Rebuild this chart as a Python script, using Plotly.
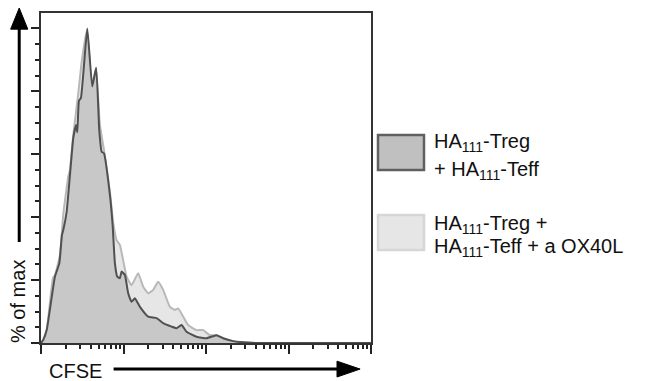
import plotly.graph_objects as go

# CFSE histogram, x in decades (log10 of intensity), y in % of max
ctrl_dec = [0.0, 0.028, 0.069, 0.169, 0.222, 0.254, 0.27, 0.311, 0.351, 0.391, 0.424,
            0.44, 0.46, 0.484, 0.561, 0.621, 0.669, 0.706, 0.735, 0.763, 0.835, 0.868,
            0.896, 0.924, 0.956, 0.977, 1.017, 1.057, 1.098, 1.138, 1.199, 1.299, 1.401,
            1.481, 1.582, 1.643, 1.703, 1.764, 1.885, 2.006, 2.127, 2.207, 2.328, 2.409,
            2.6, 4.0]
ctrl_pct = [0.0, 1.0, 4.1, 21.1, 25.3, 34.3, 35.9, 41.7, 53.4, 65.1, 69.3,
            67.0, 77.0, 77.9, 100.0, 81.5, 87.5, 67.7, 60.8, 60.3, 47.1, 37.5,
            25.3, 21.1, 20.6, 22.7, 21.6, 15.8, 13.1, 14.2, 11.5, 8.4, 7.9,
            6.3, 5.2, 4.7, 5.7, 3.6, 2.0, 1.5, 2.5, 1.5, 0.6, 0.3,
            0.0, 0.0]

ox40l_dec = [0.0, 0.024, 0.069, 0.145, 0.169, 0.23, 0.27, 0.331, 0.351, 0.387, 0.448,
             0.496, 0.557, 0.617, 0.666, 0.714, 0.763, 0.835, 0.876, 0.916, 0.956,
             1.038, 1.098, 1.178, 1.239, 1.299, 1.36, 1.42, 1.481, 1.562, 1.622, 1.662,
             1.723, 1.783, 1.885, 1.965, 2.046, 2.127, 2.207, 2.328, 2.409, 2.6, 4.0]
ox40l_pct = [0.0, 1.0, 4.1, 20.7, 21.6, 28.0, 41.0, 53.0, 55.0, 65.2, 78.5,
             90.0, 99.5, 81.7, 87.4, 69.3, 61.4, 48.0, 38.1, 32.7, 31.2,
             21.1, 18.4, 22.2, 17.9, 15.8, 16.9, 19.5, 16.9, 11.5, 10.5, 11.0,
             8.4, 5.7, 4.1, 4.1, 2.5, 2.5, 1.5, 0.6, 0.3, 0.0, 0.0]

y_major = [0, 20, 40, 60, 80, 100]
y_minor = [v for v in range(0, 101, 5) if v % 20]
x_major = [10 ** d for d in range(0, 5)]
x_minor = [m * 10 ** d for d in range(0, 4) for m in range(2, 10)]

FONT = "Liberation Sans, Arial, sans-serif"

fig = go.Figure()

fig.add_trace(go.Scatter(
    x=[10 ** d for d in ox40l_dec], y=ox40l_pct,
    mode="lines", fill="tozeroy", fillcolor="#e6e6e6",
    line=dict(color="#b8b8b8", width=2, shape="spline", smoothing=0.4),
    showlegend=False, hoverinfo="skip"
))
fig.add_trace(go.Scatter(
    x=[10 ** d for d in ctrl_dec], y=ctrl_pct,
    mode="lines", fill="tozeroy", fillcolor="#c8c8c8",
    line=dict(color="#505050", width=2, shape="spline", smoothing=0.4),
    showlegend=False, hoverinfo="skip"
))

# axis arrows
fig.add_shape(type="line", xref="paper", yref="paper",
              x0=-0.066, x1=-0.066, y0=0.306, y1=0.96,
              line=dict(color="black", width=3))
fig.add_shape(type="path", xref="paper", yref="paper",
              path="M -0.092 0.951 L -0.040 0.951 L -0.066 1.015 Z",
              fillcolor="black", line=dict(color="black", width=1))
fig.add_shape(type="line", xref="paper", yref="paper",
              x0=0.22, x1=0.91, y0=-0.079, y1=-0.079,
              line=dict(color="black", width=3))
fig.add_shape(type="path", xref="paper", yref="paper",
              path="M 0.897 -0.055 L 0.897 -0.103 L 0.967 -0.079 Z",
              fillcolor="black", line=dict(color="black", width=1))

fig.add_annotation(text="% of max", xref="paper", yref="paper",
                   x=-0.068, y=0.126, xanchor="center", yanchor="middle",
                   textangle=-90, showarrow=False,
                   font=dict(size=20, color="#111", family=FONT))
fig.add_annotation(text="CFSE", xref="paper", yref="paper",
                   x=0.1045, y=-0.085, xanchor="center", yanchor="middle",
                   showarrow=False,
                   font=dict(size=20, color="#111", family=FONT))

# legend boxes
fig.add_shape(type="rect", xref="paper", yref="paper",
              x0=1.0212, x1=1.1606, y0=0.5242, y1=0.6303,
              fillcolor="#c0c0c0", line=dict(color="#606060", width=2.5))
fig.add_shape(type="rect", xref="paper", yref="paper",
              x0=1.0212, x1=1.1606, y0=0.2818, y1=0.3879,
              fillcolor="#e6e6e6", line=dict(color="#d6d6d6", width=2.5))

legend_lines = [
    ("HA<sub>111</sub>-Treg", 0.608),
    ("+ HA<sub>111</sub>-Teff", 0.522),
    ("HA<sub>111</sub>-Treg +", 0.358),
    ("HA<sub>111</sub>-Teff + a OX40L", 0.290),
]
for txt, yy in legend_lines:
    fig.add_annotation(text=txt, xref="paper", yref="paper",
                       x=1.186, y=yy, xanchor="left", yanchor="middle",
                       showarrow=False,
                       font=dict(size=20, color="#111", family=FONT))

fig.update_layout(
    width=650, height=381,
    margin=dict(l=41, r=279, t=13, b=38),
    plot_bgcolor="white", paper_bgcolor="white",
    xaxis=dict(
        type="log", range=[0, 4],
        tickmode="array", tickvals=x_major, showticklabels=False,
        ticks="outside", ticklen=9, tickwidth=1.5, tickcolor="#222",
        minor=dict(tickmode="array", tickvals=x_minor, ticks="outside",
                   ticklen=4, tickwidth=1.5, tickcolor="#222"),
        showgrid=False, zeroline=False,
        showline=True, linecolor="#333", linewidth=2, mirror=True,
    ),
    yaxis=dict(
        range=[0, 104.9],
        tickmode="array", tickvals=y_major, showticklabels=False,
        ticks="outside", ticklen=8, tickwidth=1.5, tickcolor="#222",
        minor=dict(tickmode="array", tickvals=y_minor, ticks="outside",
                   ticklen=4, tickwidth=1.5, tickcolor="#222"),
        showgrid=False, zeroline=False,
        showline=True, linecolor="#333", linewidth=2, mirror=True,
    ),
)

fig.write_html("out.html", config={"displayModeBar": False},
               post_script="document.body.style.margin='0';")
